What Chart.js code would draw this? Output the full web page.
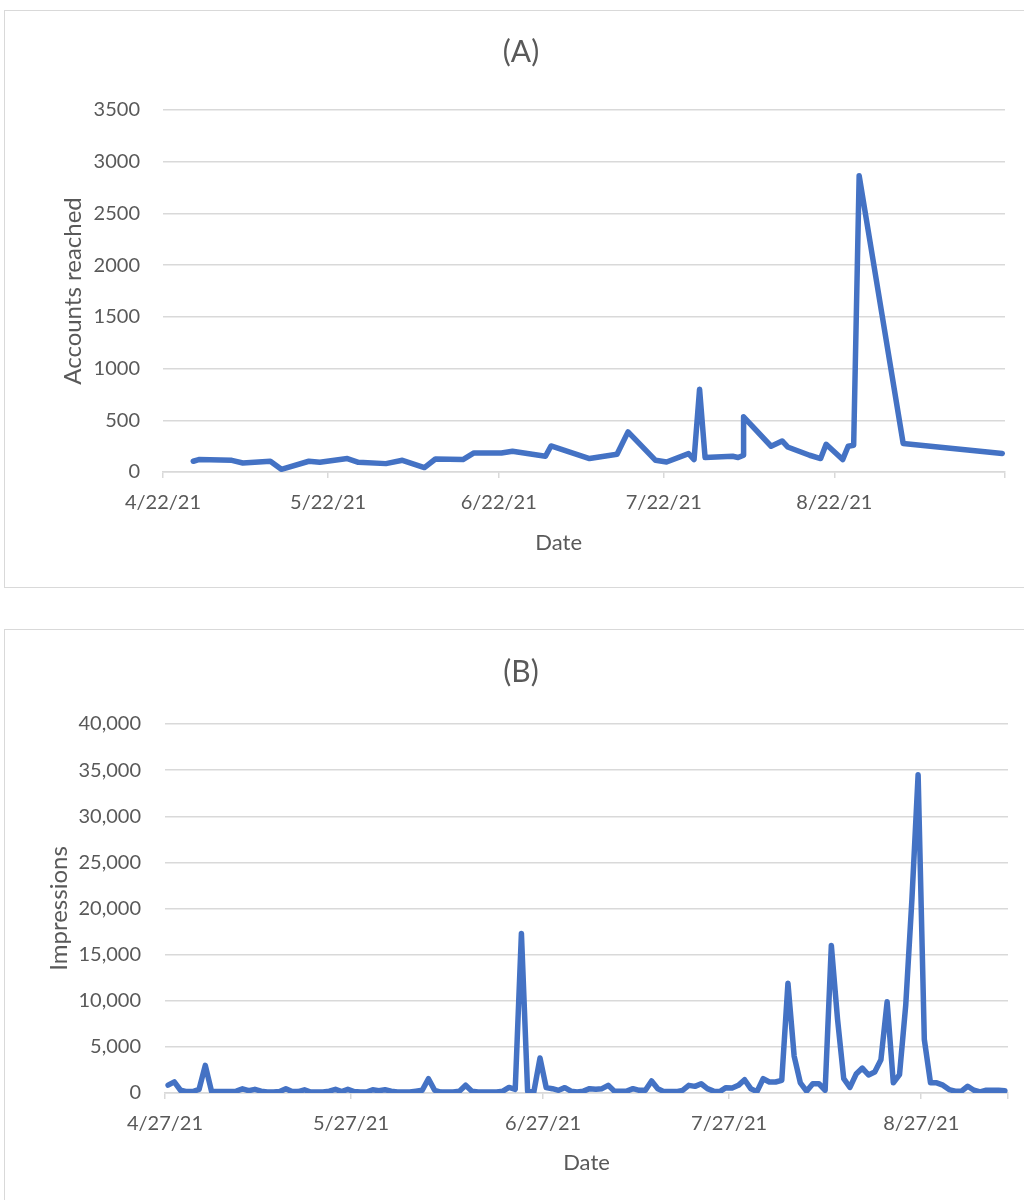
<!DOCTYPE html>
<html>
<head>
<meta charset="utf-8">
<script src="https://cdn.jsdelivr.net/npm/chart.js@4.4.0/dist/chart.umd.min.js"></script>
<style>
  html, body { margin: 0; padding: 0; background: #fff; }
  body { width: 1024px; height: 1200px; position: relative; overflow: hidden; }
  .box { position: absolute; left: 4px; width: 1040px; border: 1px solid #d9d9d9; background: #fff; }
  #boxA { top: 10px; height: 576px; }
  #boxB { top: 629px; height: 600px; }
  .wrap { position: absolute; left: 0; width: 1024px; }
  #wrapA { top: 10px; height: 578px; }
  #wrapB { top: 629px; height: 571px; }
</style>
</head>
<body>
<div class="box" id="boxA"></div>
<div class="box" id="boxB"></div>
<div class="wrap" id="wrapA"><canvas id="chartA"></canvas></div>
<div class="wrap" id="wrapB"><canvas id="chartB"></canvas></div>
<script>
// (A) accounts reached, one value per post date
const reachDates = [
  '4/27/21', '4/28/21', '5/4/21', '5/6/21', '5/11/21', '5/13/21', '5/18/21', '5/20/21',
  '5/25/21', '5/27/21', '6/1/21', '6/4/21', '6/8/21', '6/10/21', '6/15/21', '6/17/21',
  '6/22/21', '6/24/21', '6/30/21', '7/1/21', '7/8/21', '7/13/21', '7/15/21', '7/20/21',
  '7/22/21', '7/26/21', '7/27/21', '7/28/21', '7/29/21', '8/3/21', '8/4/21', '8/5/21',
  '8/5/21', '8/10/21', '8/12/21', '8/13/21', '8/17/21', '8/19/21', '8/20/21', '8/23/21',
  '8/24/21', '8/25/21', '8/26/21', '9/3/21', '9/21/21'
];
const reachValues = [
  104, 120, 113, 87, 104, 26, 104, 94,
  130, 94, 81, 113, 43, 126, 120, 184,
  184, 200, 152, 252, 130, 171, 388, 113,
  97, 178, 120, 801, 140, 152, 140, 162,
  533, 249, 300, 242, 162, 130, 268, 120,
  249, 259, 2865, 275, 178
];
const reachAxisStart = '4/22/21';
const reachAxisEnd = '9/22/21';
const reachTickDates = ['4/22/21', '5/22/21', '6/22/21', '7/22/21', '8/22/21'];

// (B) impressions, one value per day from 4/27/21
const impressionsStart = '4/27/21';
const impressionsValues = [
  850, 1200, 300, 150, 150, 400, 3000, 200, 150, 150,
  150, 200, 450, 250, 400, 200, 100, 100, 150, 450,
  150, 150, 350, 100, 100, 100, 200, 400, 150, 400,
  150, 100, 100, 350, 250, 350, 200, 100, 100, 100,
  200, 290, 1550, 290, 100, 100, 100, 200, 850, 200,
  100, 100, 100, 100, 200, 600, 400, 17300, 200, 100,
  3800, 580, 470, 290, 580, 200, 100, 200, 470, 400,
  470, 830, 200, 200, 200, 470, 290, 290, 1300, 470,
  150, 150, 150, 290, 830, 720, 1000, 470, 200, 150,
  580, 540, 830, 1440, 470, 150, 1550, 1190, 1190, 1370,
  11900, 4000, 1100, 200, 1000, 1000, 300, 16000, 8000, 1550,
  600, 2050, 2700, 1950, 2270, 3600, 9900, 1100, 2000, 9500,
  21000, 34500, 5800, 1100, 1100, 850, 370, 200, 200, 730,
  300, 110, 300, 300, 300, 250
];
const impressionsAxisEnd = '9/10/21';
const impressionsTickDates = ['4/27/21', '5/27/21', '6/27/21', '7/27/21', '8/27/21'];

const FONT = 'Lato, "Open Sans", sans-serif';
const TEXT = '#595959';
const GRID = '#d9d9d9';
const LINE = '#4472C4';

function dayNum(s) {
  const [m, d, y] = s.split('/').map(Number);
  return Date.UTC(2000 + y, m - 1, d) / 864e5;
}
function fmtDay(day) {
  const dt = new Date(day * 864e5);
  return (dt.getUTCMonth() + 1) + '/' + dt.getUTCDate() + '/' + String(dt.getUTCFullYear()).slice(2);
}

function makeChart(id, cfg) {
  const labelled = cfg.tickDates.map(dayNum);
  const tickDays = labelled.concat([dayNum(cfg.end)]);
  return new Chart(document.getElementById(id), {
    type: 'line',
    data: {
      datasets: [{
        data: cfg.points,
        borderColor: LINE,
        borderWidth: 5.5,
        pointRadius: 0,
        tension: 0,
        borderJoinStyle: 'round',
        borderCapStyle: 'round'
      }]
    },
    options: {
      responsive: true,
      maintainAspectRatio: false,
      animation: false,
      layout: { padding: { left: cfg.padLeft, right: cfg.padRight, top: 0, bottom: 0 } },
      plugins: {
        legend: { display: false },
        tooltip: { enabled: false },
        title: {
          display: true,
          text: cfg.title,
          color: TEXT,
          font: { family: FONT, size: 30, weight: 'normal' },
          padding: { top: cfg.titleTop, bottom: cfg.titleBottom }
        }
      },
      scales: {
        x: {
          type: 'linear',
          min: dayNum(cfg.start),
          max: dayNum(cfg.end),
          afterBuildTicks: s => { s.ticks = tickDays.map(v => ({ value: v })); },
          afterFit: s => { s.height = cfg.xHeight; },
          grid: { drawOnChartArea: false, drawTicks: true, tickLength: 6, color: GRID, lineWidth: 1.5 },
          border: { display: true, color: GRID, width: 1.5 },
          ticks: {
            autoSkip: false,
            maxRotation: 0,
            padding: 13,
            color: TEXT,
            font: { family: FONT, size: 20 },
            callback: v => labelled.includes(v) ? fmtDay(v) : ''
          },
          title: {
            display: true,
            text: 'Date' + '\u00a0'.repeat(cfg.xTitleShift),
            color: TEXT,
            font: { family: FONT, size: 22 },
            padding: { top: 0, bottom: cfg.xTitleBottom }
          }
        },
        y: {
          min: 0,
          max: cfg.yMax,
          afterFit: s => { s.width = cfg.yWidth; },
          grid: { color: GRID, lineWidth: 1.5, drawTicks: false },
          border: { display: false },
          ticks: {
            stepSize: cfg.yStep,
            padding: cfg.yPad,
            color: TEXT,
            font: { family: FONT, size: 20 },
            callback: cfg.yFormat
          },
          title: {
            display: true,
            text: cfg.yTitle,
            color: TEXT,
            font: { family: FONT, size: 24 },
            padding: { top: cfg.yTitleTop, bottom: 0 }
          }
        }
      }
    }
  });
}

const reachPoints = reachDates.map((d, i) => ({ x: dayNum(d) + 0.5, y: reachValues[i] }));
const startB = dayNum(impressionsStart);
const impressionPoints = impressionsValues.map((v, i) => ({ x: startB + i + 0.5, y: v }));

makeChart('chartA', {
  title: '(A)', points: reachPoints,
  start: reachAxisStart, end: reachAxisEnd, tickDates: reachTickDates,
  yMax: 3500, yStep: 500, yFormat: v => String(v), yTitle: 'Accounts reached',
  padLeft: 37, padRight: 19, titleTop: 24, titleBottom: 40,
  xHeight: 116, xTitleBottom: 32, xTitleShift: 9,
  yWidth: 126, yPad: 23, yTitleTop: 22
});

makeChart('chartB', {
  title: '(B)', points: impressionPoints,
  start: impressionsStart, end: impressionsAxisEnd, tickDates: impressionsTickDates,
  yMax: 40000, yStep: 5000, yFormat: v => v.toLocaleString('en-US'), yTitle: 'Impressions',
  padLeft: 34, padRight: 16, titleTop: 25, titleBottom: 34,
  xHeight: 107, xTitleBottom: 24, xTitleShift: 0,
  yWidth: 131, yPad: 24, yTitleTop: 11
});
</script>
</body>
</html>
